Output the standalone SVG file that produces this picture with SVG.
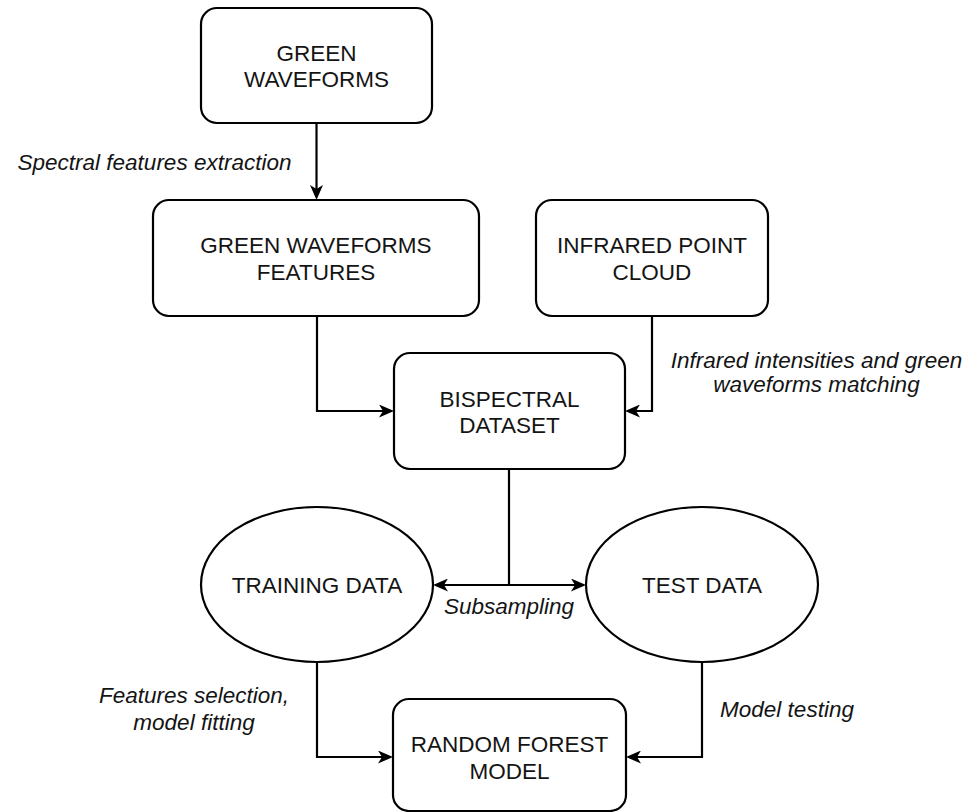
<svg xmlns="http://www.w3.org/2000/svg" width="973" height="812" viewBox="0 0 973 812">
<style>
.box{fill:#fff;stroke:#000;stroke-width:2.2}
.t{font-family:"Liberation Sans",Arial,sans-serif;font-size:22.5px;fill:#141414;text-anchor:middle}
.l{font-family:"Liberation Sans",Arial,sans-serif;font-size:22.5px;font-style:italic;fill:#141414;text-anchor:middle}
.c{fill:none;stroke:#000;stroke-width:2.2}
</style>
<defs>
<marker id="arr" viewBox="0 0 15 13" markerWidth="15" markerHeight="13" refX="4" refY="6.5" orient="auto" markerUnits="userSpaceOnUse">
<path d="M0,0 L15,6.5 L0,13 L4,6.5 Z" fill="#000"/>
</marker>
</defs>
<rect width="973" height="812" fill="#fff"/>
<g id="connectors">
<path class="c" d="M316.5,123 V189" marker-end="url(#arr)"/>
<path class="c" d="M317,316 V411 H383" marker-end="url(#arr)"/>
<path class="c" d="M652,316 V411 H636" marker-end="url(#arr)"/>
<path class="c" d="M509,469 V585 H444" marker-end="url(#arr)"/>
<path class="c" d="M509,585 H575" marker-end="url(#arr)"/>
<path class="c" d="M317,662 V757 H382" marker-end="url(#arr)"/>
<path class="c" d="M702,662 V757 H637" marker-end="url(#arr)"/>
<text class="l" x="154.5" y="170">Spectral features extraction</text>
<text class="l" x="816.5" y="368">Infrared intensities and green</text>
<text class="l" x="816.5" y="392">waveforms matching</text>
<text class="l" x="509" y="614">Subsampling</text>
<text class="l" x="194" y="703">Features selection,</text>
<text class="l" x="194" y="730">model fitting</text>
<text class="l" x="787" y="717">Model testing</text>
</g>
<g id="green-waveforms">
<rect class="box" x="201" y="8" width="231" height="115" rx="16"/>
<text class="t" x="316.5" y="61">GREEN</text>
<text class="t" x="316.5" y="87">WAVEFORMS</text>
</g>
<g id="green-waveforms-features">
<rect class="box" x="153" y="200" width="326" height="116" rx="16"/>
<text class="t" x="316" y="253">GREEN WAVEFORMS</text>
<text class="t" x="316" y="280">FEATURES</text>
</g>
<g id="infrared-point-cloud">
<rect class="box" x="536" y="200" width="232" height="116" rx="16"/>
<text class="t" x="652" y="253">INFRARED POINT</text>
<text class="t" x="652" y="280">CLOUD</text>
</g>
<g id="bispectral-dataset">
<rect class="box" x="394" y="353" width="231" height="116" rx="16"/>
<text class="t" x="509.5" y="407">BISPECTRAL</text>
<text class="t" x="509.5" y="433">DATASET</text>
</g>
<g id="training-data">
<ellipse class="box" cx="317" cy="584.5" rx="116" ry="77.5"/>
<text class="t" x="317" y="593">TRAINING DATA</text>
</g>
<g id="test-data">
<ellipse class="box" cx="702" cy="584.5" rx="116" ry="77.5"/>
<text class="t" x="702" y="593">TEST DATA</text>
</g>
<g id="random-forest-model">
<rect class="box" x="393" y="699" width="233" height="112" rx="16"/>
<text class="t" x="509.5" y="752">RANDOM FOREST</text>
<text class="t" x="509.5" y="779">MODEL</text>
</g>
</svg>
